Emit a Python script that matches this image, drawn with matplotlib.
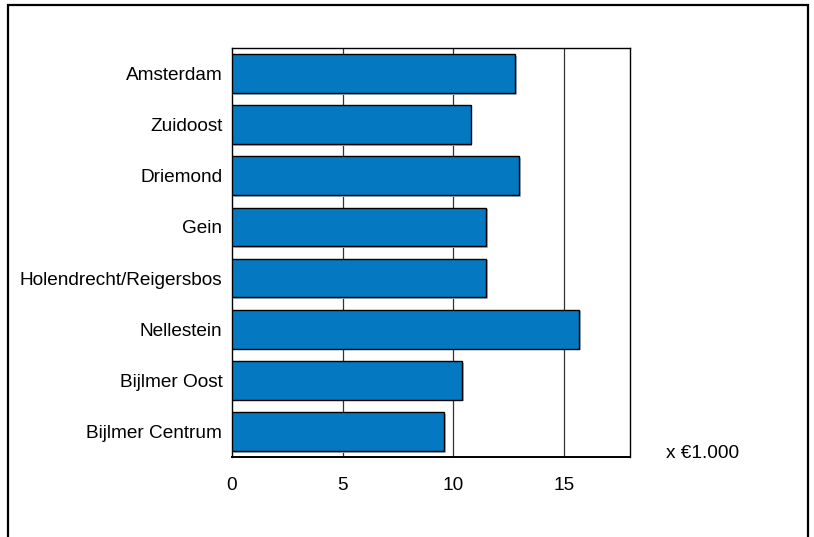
import matplotlib
matplotlib.use('Agg')
import matplotlib.pyplot as plt
import matplotlib.transforms as mtransforms
from matplotlib.patches import Rectangle

# gegevens
wijken = ['Amsterdam', 'Zuidoost', 'Driemond', 'Gein', 'Holendrecht/Reigersbos',
          'Nellestein', 'Bijlmer Oost', 'Bijlmer Centrum']
waarden = [12.8, 10.8, 13.0, 11.5, 11.5, 15.7, 10.4, 9.6]
xticks = [0, 5, 10, 15]
eenheid = 'x €1.000'

plt.rcParams['font.family'] = ['Liberation Sans', 'DejaVu Sans']
FS = 13.7

fig = plt.figure(figsize=(8.14, 5.37), dpi=100)
W, H = 814, 537

# kader rond de figuur (onderkant valt weg)
fig.patches.append(Rectangle((8 / W, -0.05), 800 / W, 1.05 - 5 / H, transform=fig.transFigure,
                             fill=False, edgecolor='black', linewidth=1.6))

ax = fig.add_axes([232 / W, 1 - 457 / H, 398 / W, 409 / H])
ypos = list(range(len(wijken)))

# schaduw achter de balken
schaduw = ax.transData + mtransforms.ScaledTranslation(1.2 / 72, -1.2 / 72, fig.dpi_scale_trans)
ax.barh(ypos, waarden, height=0.76, color='#b8b8b8', edgecolor='none', transform=schaduw, zorder=2)
ax.barh(ypos, waarden, height=0.76, color='#0479c1', edgecolor='black', linewidth=1.0, zorder=3)

ax.set_xlim(0, 18)
ax.set_ylim(len(wijken) - 0.5, -0.5)
ax.set_yticks(ypos)
ax.set_yticklabels(wijken, fontsize=FS)
ax.set_xticks(xticks)
ax.set_xticklabels([str(t) for t in xticks], fontsize=FS)
ax.tick_params(axis='both', length=0)
ax.tick_params(axis='y', pad=7)
ax.tick_params(axis='x', pad=14.5)

for t in xticks[1:]:
    ax.axvline(t, color='#333333', linewidth=0.9, zorder=1)

for s in ax.spines.values():
    s.set_linewidth(1.0)
    s.set_color('black')
ax.spines['bottom'].set_linewidth(1.4)

fig.text(666 / W, 1 - 453 / H, eenheid, fontsize=FS, va='center', ha='left')

fig.savefig('out.png', dpi=100)
